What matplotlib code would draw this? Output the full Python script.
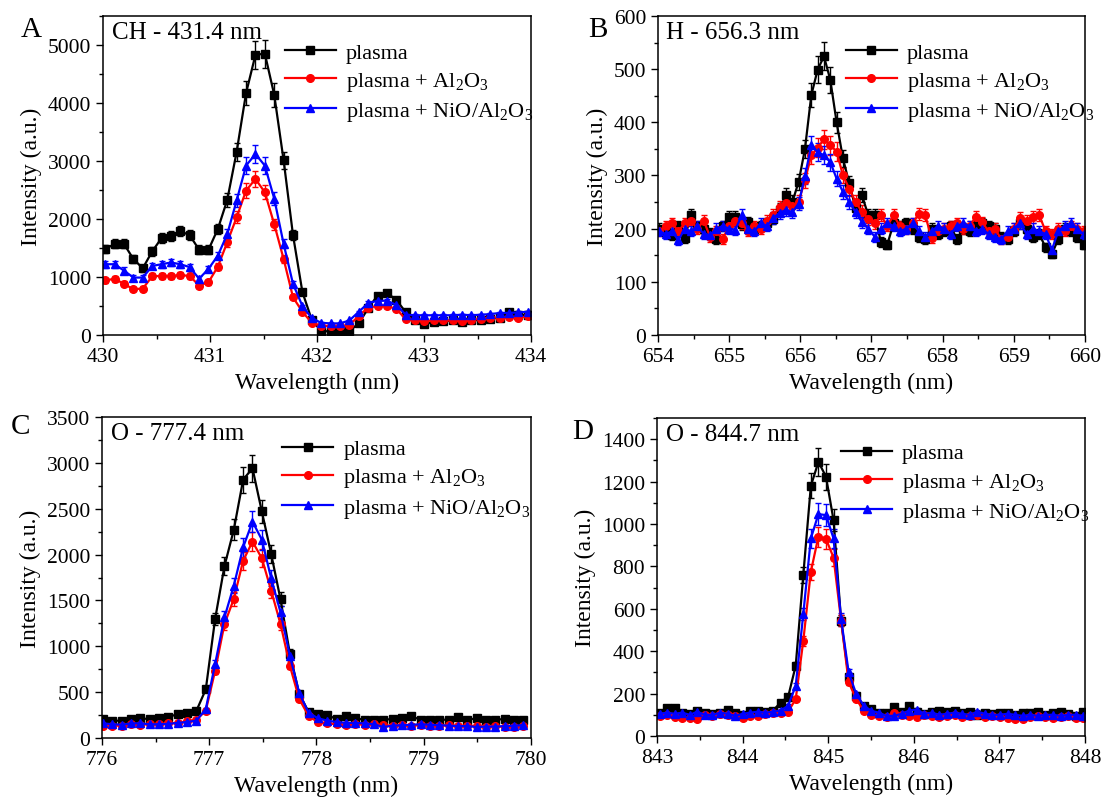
import numpy as np
import matplotlib.pyplot as plt
from matplotlib.ticker import MultipleLocator

plt.rcParams['font.family'] = 'Liberation Serif'
plt.rcParams['mathtext.fontset'] = 'custom'
plt.rcParams['mathtext.rm'] = 'Liberation Serif'
plt.rcParams['mathtext.it'] = 'Liberation Serif'

labels = ['plasma', 'plasma + Al$_2$O$_3$', 'plasma + NiO/Al$_2$O$_3$']
colors = ['black', 'red', 'blue']
markers = ['s', 'o', '^']
rel_err = 0.05  # error bars are roughly 5 % of the signal

# Panel A: CH - 431.4 nm
wl_A = np.linspace(430.02, 433.97, 46)
black_A = [1480, 1570, 1570, 1310, 1150, 1440, 1670, 1710, 1790, 1720, 1470, 1470, 1830, 2330, 3160, 4170,
           4830, 4850, 4140, 3010, 1720, 740, 260, 70, 60, 50, 70, 200, 460, 680, 720, 610, 390, 250, 190,
           220, 240, 250, 230, 250, 260, 280, 300, 390, 350, 340]
red_A = [940, 970, 880, 790, 800, 1010, 1020, 1020, 1030, 1020, 850, 910, 1180, 1600, 2030, 2490,
         2690, 2460, 1910, 1310, 650, 400, 210, 160, 150, 150, 170, 330, 470, 500, 500, 450, 270, 250, 240,
         250, 250, 250, 240, 260, 280, 300, 300, 310, 300, 320]
blue_A = [1220, 1220, 1110, 990, 990, 1190, 1220, 1250, 1220, 1170, 970, 1140, 1370, 1740, 2320, 2920,
          3120, 2920, 2350, 1570, 880, 500, 290, 210, 200, 200, 250, 400, 550, 590, 590, 520, 350, 340, 340,
          340, 340, 340, 350, 340, 350, 360, 380, 380, 390, 400]

# Panel B: H - 656.3 nm
wl_B = np.linspace(654.02, 659.98, 68)
black_B = [200, 193, 188, 205, 183, 225, 205, 200, 192, 180, 205, 222, 222, 208, 212, 200, 205, 210, 219,
           236, 263, 250, 288, 350, 451, 499, 524, 480, 400, 332, 285, 238, 263, 225, 226, 175, 170,
           210, 205, 210, 200, 185, 180, 200, 190, 195, 205, 180, 200, 195, 205, 210, 205, 200, 185, 180,
           195, 210, 200, 185, 190, 165, 152, 180, 200, 195, 185, 170]
red_B = [195, 205, 210, 195, 210, 215, 200, 215, 185, 195, 180, 205, 215, 210, 195, 205, 200, 215, 225,
         240, 248, 242, 251, 291, 338, 352, 368, 357, 345, 300, 275, 250, 232, 218, 210, 225, 205,
         225, 205, 200, 210, 228, 225, 182, 195, 200, 205, 210, 200, 205, 222, 212, 195, 200, 180, 185,
         200, 220, 215, 222, 226, 195, 190, 200, 195, 205, 200, 195]
blue_B = [195, 190, 195, 178, 200, 195, 205, 190, 188, 200, 205, 200, 198, 225, 200, 195, 210, 205, 220,
          230, 235, 231, 247, 299, 357, 344, 338, 325, 294, 269, 250, 231, 212, 200, 185, 200, 210,
          205, 195, 200, 210, 195, 185, 195, 205, 200, 190, 205, 210, 205, 195, 200, 190, 185, 180, 195,
          200, 210, 190, 200, 195, 190, 160, 195, 205, 210, 200, 190]

# Panel C: O - 777.4 nm
wl_C = np.linspace(776.01, 779.93, 46)
black_C = [207, 189, 189, 207, 214, 207, 214, 233, 258, 276, 298, 530, 1298, 1875, 2270, 2817, 2941, 2470,
           2007, 1512, 920, 484, 285, 262, 251, 207, 236, 214, 200, 200, 200, 207, 214, 236, 200, 200, 200,
           200, 225, 200, 214, 200, 200, 207, 200, 200]
red_C = [127, 135, 135, 150, 145, 150, 150, 160, 165, 185, 200, 298, 734, 1243, 1516, 1934, 2141, 1960,
         1607, 1243, 789, 425, 243, 171, 160, 150, 145, 150, 145, 150, 140, 135, 140, 135, 140, 130, 135,
         140, 130, 135, 130, 125, 130, 120, 125, 130]
blue_C = [160, 150, 145, 160, 160, 150, 150, 155, 165, 175, 190, 316, 807, 1316, 1661, 2080, 2359, 2163,
          1741, 1371, 898, 491, 276, 215, 190, 175, 165, 165, 160, 150, 120, 135, 140, 145, 150, 145, 140,
          135, 130, 130, 120, 125, 125, 130, 135, 140]

# Panel D: O - 844.7 nm
wl_D = np.linspace(843.03, 847.98, 57)
black_D = [110, 130, 130, 110, 105, 120, 110, 105, 110, 125, 110, 100, 120, 120, 115, 120, 158, 185, 332,
           759, 1180, 1293, 1224, 1018, 544, 277, 190, 143, 127, 110, 110, 135, 115, 140, 115, 105, 115,
           120, 115, 120, 110, 115, 100, 110, 105, 110, 110, 100, 110, 110, 115, 100, 110, 115, 105, 95, 115]
red_D = [95, 100, 90, 85, 85, 80, 100, 95, 105, 100, 95, 85, 95, 95, 105, 110, 110, 115, 174,
         449, 775, 941, 929, 842, 544, 253, 174, 119, 100, 95, 90, 110, 100, 95, 90, 100, 95,
         90, 95, 100, 90, 95, 100, 90, 95, 90, 85, 80, 80, 90, 95, 90, 85, 90, 95, 85, 85]
blue_D = [105, 110, 105, 110, 100, 115, 100, 100, 110, 105, 95, 105, 110, 115, 110, 115, 120, 143, 237,
          575, 932, 1047, 1042, 932, 552, 300, 198, 143, 119, 110, 95, 95, 105, 120, 125, 105, 110,
          100, 105, 110, 105, 100, 115, 105, 100, 100, 105, 100, 95, 100, 95, 100, 100, 95, 100, 100, 95]

fig = plt.figure(figsize=(11.01, 8.04), dpi=100)

panels = [
    # letter, title, x, series, xlim, xmajor, ylim, ymajor, axes rect, letter pos, legend anchor
    ('A', 'CH - 431.4 nm', wl_A, [black_A, red_A, blue_A], (430, 434), 1, (0, 5500), 1000,
     [0.0936, 0.5821, 0.3887, 0.3968], (0.028, 0.963), (0.425, 0.918)),
    ('B', 'H - 656.3 nm', wl_B, [black_B, red_B, blue_B], (654, 660), 1, (0, 600), 100,
     [0.5976, 0.5821, 0.3878, 0.3968], (0.543, 0.963), (0.44, 0.918)),
    ('C', 'O - 777.4 nm', wl_C, [black_C, red_C, blue_C], (776, 780), 1, (0, 3500), 500,
     [0.0926, 0.0808, 0.3896, 0.3993], (0.019, 0.469), (0.42, 0.932)),
    ('D', 'O - 844.7 nm', wl_D, [black_D, red_D, blue_D], (843, 848), 1, (0, 1500), 200,
     [0.5967, 0.0833, 0.3887, 0.3955], (0.529, 0.463), (0.43, 0.922)),
]

for letter, title, wl, series, xlim, xmaj, ylim, ymaj, rect, lpos, leg_at in panels:
    ax = fig.add_axes(rect)
    handles = []
    for y, c, m, lab in zip(series, colors, markers, labels):
        y = np.array(y, dtype=float)
        eb = ax.errorbar(wl, y, yerr=rel_err * y, color=c, marker=m, markersize=5.5, lw=1.6,
                         elinewidth=1.0, capsize=2.5, capthick=1.0, label=lab)
        handles.append(eb[0])
    ax.set_xlim(*xlim)
    ax.set_ylim(*ylim)
    ax.xaxis.set_major_locator(MultipleLocator(xmaj))
    ax.xaxis.set_minor_locator(MultipleLocator(xmaj / 2))
    ax.yaxis.set_major_locator(MultipleLocator(ymaj))
    ax.yaxis.set_minor_locator(MultipleLocator(ymaj / 2))
    ax.tick_params(which='major', direction='out', length=5, width=1.0, labelsize=15.5)
    ax.tick_params(which='minor', direction='out', length=3, width=1.0)
    for s in ax.spines.values():
        s.set_linewidth(1.1)
    ax.set_xlabel('Wavelength (nm)', fontsize=17)
    ax.set_ylabel('Intensity (a.u.)', fontsize=17)
    ax.text(0.02, 0.985, title, transform=ax.transAxes, fontsize=18, va='top', ha='left')
    ax.legend(handles, labels, loc='upper left', bbox_to_anchor=leg_at, frameon=False,
              fontsize=16, handlelength=2.3, handletextpad=0.45, labelspacing=0.32,
              borderpad=0, borderaxespad=0, numpoints=1)
    fig.text(lpos[0], lpos[1], letter, fontsize=21, ha='center', va='center')

fig.savefig('out.png', dpi=100)
